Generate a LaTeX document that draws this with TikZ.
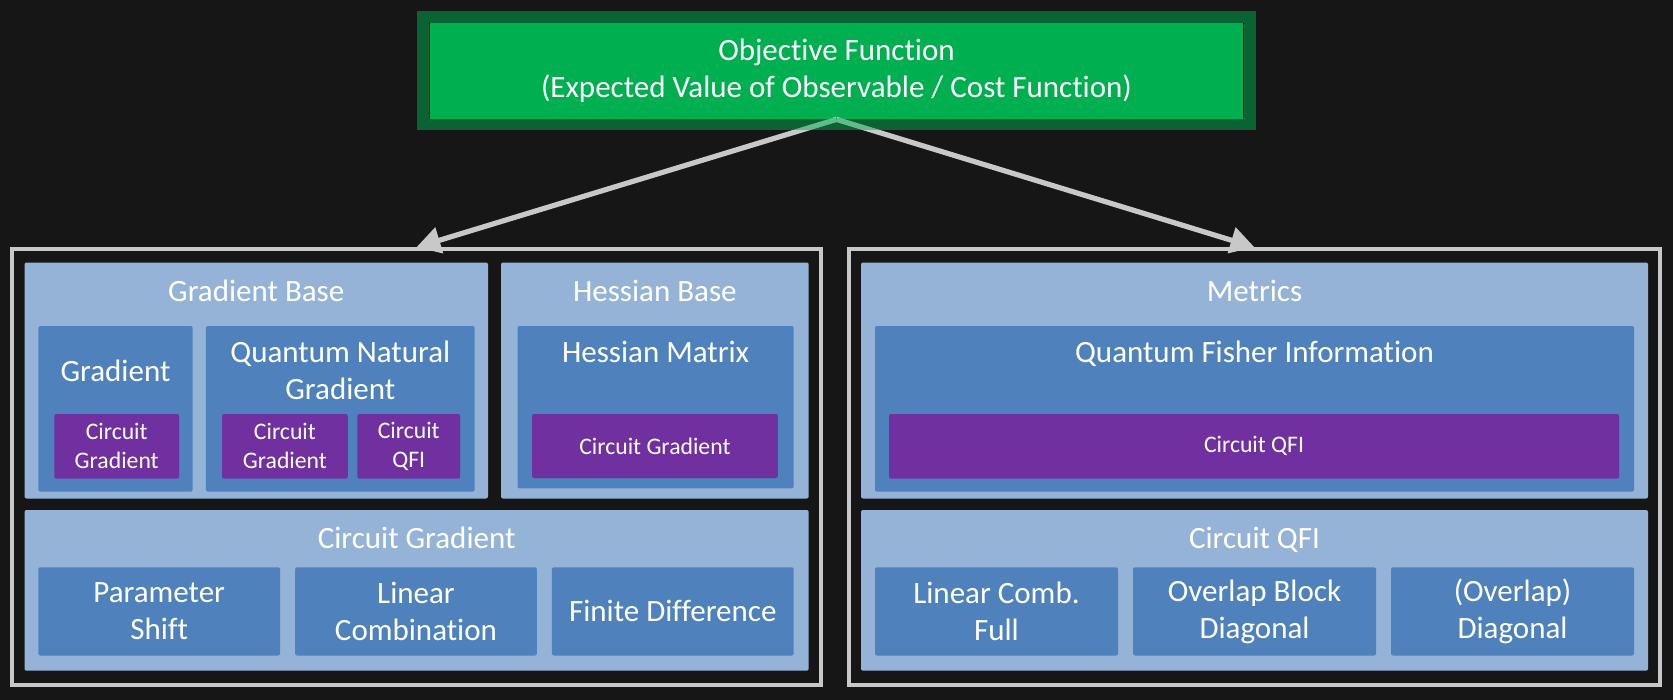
\documentclass[tikz,border=0pt]{standalone}
\usepackage{fontspec}
\setmainfont{Carlito}[Ligatures=NoCommon]
\usetikzlibrary{arrows.meta}
\definecolor{bgdark}{HTML}{161616}
\definecolor{objgreen}{HTML}{00B050}
\definecolor{panelblue}{HTML}{95B3D7}
\definecolor{blockblue}{HTML}{4F81BD}
\definecolor{circpurple}{HTML}{7030A0}
\definecolor{framegray}{HTML}{C8C8C8}
\tikzset{
every node/.style={text=white, inner sep=0pt, align=center}, % white text on every box
wh/.style 2 args={minimum width=#1*0.5pt, minimum height=#2*0.5pt}, % box size in pixels
big/.style={font=\fontsize{15.5}{18.5}\selectfont},
small/.style={font=\fontsize{11.85}{14.5}\selectfont},
panel/.style={fill=panelblue, rounded corners=1pt}, % light blue group
block/.style={fill=blockblue, rounded corners=1pt, big}, % darker blue class box
circ/.style={fill=circpurple, rounded corners=1pt, small}, % purple circuit box
title/.style={anchor=base, big}, % base of the last line
frame/.style={draw=framegray, line width=2pt},
flow/.style={-{Triangle[length=12pt,width=13pt]}, draw=framegray, line width=2.6pt},
}
\begin{document}
\begin{tikzpicture}[x=0.5pt, y=-0.5pt]
    \path[use as bounding box, fill=bgdark] (0,0) rectangle (1673,700);

    % objective function
    \node[big, fill=objgreen, wh={813}{96}] (obj) at (836.5,71)
        {Objective Function\\(Expected Value of Observable / Cost Function)};

    % outer frames
    \node[frame, wh={809.3}{435.7}] (leftframe) at (416.35,467.15) {};
    \node[frame, wh={811}{435.7}] (rightframe) at (1254.5,467.15) {};

    % gradient side
    \node[panel, wh={463.5}{236}] (gradbase) at (256.25,380.5) {};
    \node[title] (gradbase-t) at (256.25,301) {Gradient Base};
    \node[block, wh={154.3}{165.7}] (grad) at (115.5,408.85) {};
    \node[title] (grad-t) at (115.5,381) {Gradient};
    \node[circ, wh={124.7}{64.7}] (grad-cg) at (116.7,446.35) {Circuit\\Gradient};
    \node[block, wh={268.7}{165.7}] (qng) at (340.3,408.85) {};
    \node[title] (qng-t) at (340.3,399) {Quantum Natural\\Gradient};
    \node[circ, wh={125.7}{64.7}] (qng-cg) at (284.9,446.35) {Circuit\\Gradient};
    \node[circ, wh={102.7}{64.7}] (qng-qfi) at (408.7,446.35) {Circuit\\QFI};

    \node[panel, wh={307.7}{236}] (hessbase) at (654.85,380.5) {};
    \node[title] (hessbase-t) at (654.85,301) {Hessian Base};
    \node[block, wh={276.2}{162.3}] (hessmat) at (655.6,407.15) {};
    \node[title] (hessmat-t) at (655.6,362) {Hessian Matrix};
    \node[circ, wh={245.7}{64}] (hess-cg) at (654.9,446) {Circuit Gradient};

    \node[panel, wh={784.2}{160.7}] (circgrad) at (416.6,590.35) {};
    \node[title] (circgrad-t) at (416.6,548.5) {Circuit Gradient};
    \node[block, wh={241.8}{88.2}] (pshift) at (159.2,611.4) {Parameter\\Shift};
    \node[block, wh={241.8}{88.2}] (lincomb) at (416,611.4) {Linear\\Combination};
    \node[block, wh={241.8}{88.2}] (findiff) at (672.8,611.4) {Finite Difference};

    % metrics side
    \node[panel, wh={787}{236}] (metrics) at (1254.5,380.5) {};
    \node[title] (metrics-t) at (1254.5,301) {Metrics};
    \node[block, wh={759}{165.7}] (qfi) at (1254.5,408.85) {};
    \node[title] (qfi-t) at (1254.5,362) {Quantum Fisher Information};
    \node[circ, wh={730}{64.7}] (qfi-c) at (1254,446.35) {Circuit QFI};

    \node[panel, wh={787}{160.7}] (circqfi) at (1254.5,590.35) {};
    \node[title] (circqfi-t) at (1254.5,548.5) {Circuit QFI};
    \node[block, wh={243}{88.2}] (lcfull) at (996.5,611.4) {Linear Comb.\\Full};
    \node[block, wh={243}{88.2}] (overlapbd) at (1254.5,611.4) {Overlap Block\\Diagonal};
    \node[block, wh={243}{88.2}] (overlapdiag) at (1512.5,611.4) {(Overlap)\\Diagonal};

    % arrows, then the see-through rim over them
    \draw[flow] (obj.south) -- (leftframe.north);
    \draw[flow] (obj.south) -- (rightframe.north);
    \node[draw=objgreen, draw opacity=0.5, line width=6pt, wh={827}{106.5}] (objrim) at (836.5,70.75) {};
\end{tikzpicture}
\end{document}
